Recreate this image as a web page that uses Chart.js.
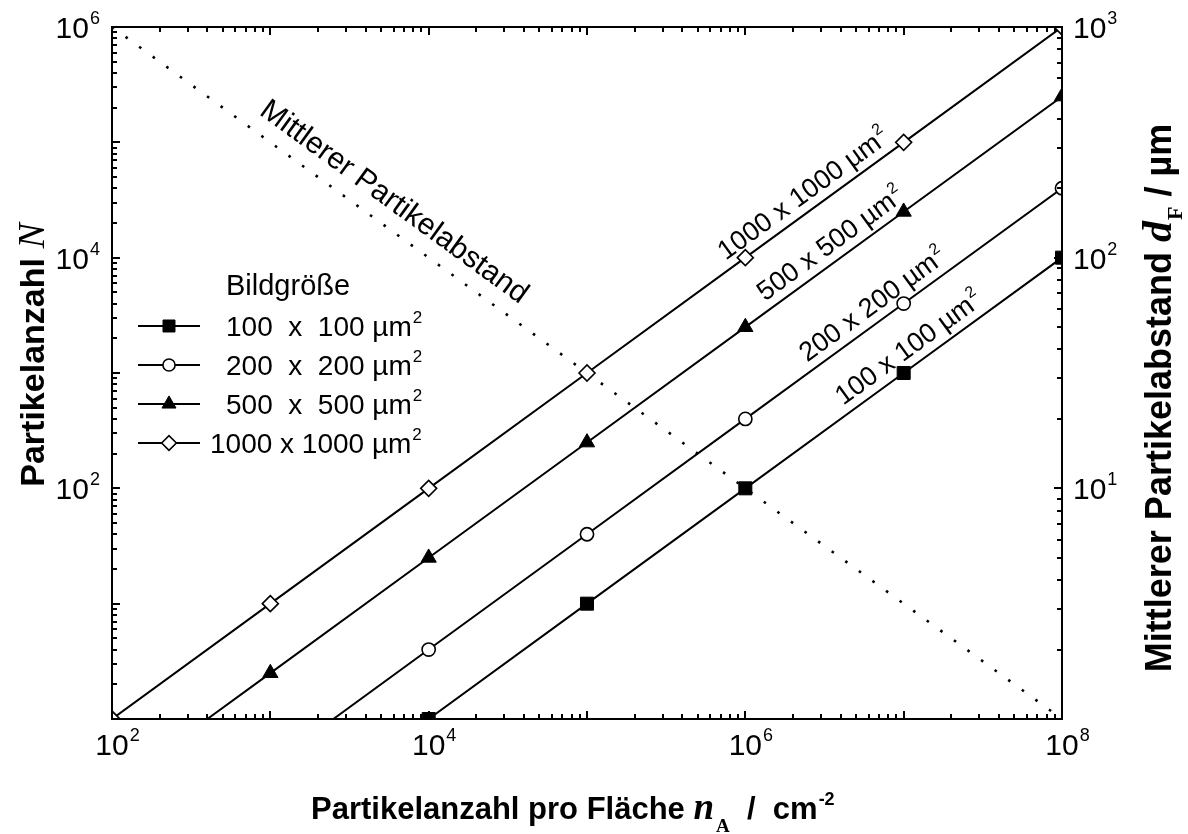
<!DOCTYPE html>
<html>
<head>
<meta charset="utf-8">
<script src="https://cdn.jsdelivr.net/npm/chart.js@4/dist/chart.umd.min.js"></script>
<style>
  html, body { margin: 0; padding: 0; background: #fff; }
  #wrap { width: 1188px; height: 834px; }
</style>
</head>
<body>
<div id="wrap"><canvas id="chart" width="1188" height="834"></canvas></div>
<script>
// Particle count N in an image field versus particle density n_A (cm^-2)
const density100 = [1e4, 1e5, 1e6, 1e7, 1e8];
const count100   = [1, 10, 100, 1000, 10000];
const density200 = [2500, 1e4, 1e5, 1e6, 1e7, 1e8];
const count200   = [1, 4, 40, 400, 4000, 40000];
const density500 = [400, 1e3, 1e4, 1e5, 1e6, 1e7, 1e8];
const count500   = [1, 2.5, 25, 250, 2500, 25000, 250000];
const density1000 = [1e2, 1e3, 1e4, 1e5, 1e6, 1e7, 1e8];
const count1000   = [1, 10, 100, 1000, 1e4, 1e5, 1e6];

// mean particle spacing d_F (µm), right axis
const spacingDensity = [1e2, 1e8];
const spacingValue   = [1000, 1];

// image sizes
const sizeNames  = ['100  x  100 µm', '200  x  200 µm', '500  x  500 µm', '1000 x 1000 µm'];
const lineNames  = ['100 x 100 µm', '200 x 200 µm', '500 x 500 µm', '1000 x 1000 µm'];
const legendTitle = 'Bildgröße';
const spacingName = 'Mittlerer Partikelabstand';

// tick label exponents
const xTickExp  = [2, 4, 6, 8];
const yTickExp  = [2, 4, 6];
const y2TickExp = [1, 2, 3];

const SANS  = "'Liberation Sans', Arial, sans-serif";
const SERIF = "'Liberation Serif', 'Times New Roman', serif";

function pts(xs, ys) { return xs.map((x, i) => ({ x: x, y: ys[i] })); }

const markerStyles = [
  { pointStyle: 'rect',     radius: 9.2, fill: '#000', border: 1 },
  { pointStyle: 'circle',   radius: 6.6, fill: '#fff', border: 1.6 },
  { pointStyle: 'triangle', radius: 8.8, fill: '#000', border: 1 },
  { pointStyle: 'rectRot',  radius: 8.0, fill: '#fff', border: 1.6 }
];
const seriesX = [density100, density200, density500, density1000];
const seriesY = [count100, count200, count500, count1000];
// the 200 and 500 curves start on the lower axis without a marker
const bareFirst = [false, true, true, false];

const datasets = seriesX.map((xs, k) => {
  const m = markerStyles[k];
  return {
    label: lineNames[k],
    data: pts(xs, seriesY[k]),
    yAxisID: 'y',
    borderColor: '#000',
    borderWidth: 2,
    tension: 0,
    fill: false,
    pointStyle: m.pointStyle,
    pointRadius: xs.map((_, i) => (bareFirst[k] && i === 0) ? 0 : m.radius),
    pointBackgroundColor: m.fill,
    pointBorderColor: '#000',
    pointBorderWidth: m.border,
    pointHoverRadius: 0
  };
});

datasets.push({
  label: spacingName,
  data: pts(spacingDensity, spacingValue),
  yAxisID: 'y2',
  borderColor: '#000',
  borderWidth: 2.6,
  borderDash: [2.6, 14.2],
  borderCapStyle: 'butt',
  pointRadius: 0,
  tension: 0,
  fill: false
});

function richWidth(ctx, parts) {
  let w = 0;
  for (const p of parts) { ctx.font = p.font; w += ctx.measureText(p.text).width + (p.dx || 0); }
  return w;
}
function drawRich(ctx, parts, x, y, align) {
  const w = richWidth(ctx, parts);
  let cx = align === 'center' ? x - w / 2 : (align === 'right' ? x - w : x);
  ctx.textAlign = 'left';
  ctx.textBaseline = 'alphabetic';
  for (const p of parts) {
    ctx.font = p.font;
    cx += (p.dx || 0);
    ctx.fillText(p.text, cx, y + (p.dy || 0));
    cx += ctx.measureText(p.text).width;
  }
}
function powParts(e) {
  return [{ text: '10', font: '30px ' + SANS }, { text: String(e), font: '18px ' + SANS, dy: -14, dx: 1 }];
}
function areaParts(t, size, sup) {
  return [{ text: t, font: size + 'px ' + SANS }, { text: '2', font: sup + 'px ' + SANS, dy: -Math.round(size * 0.45), dx: 1 }];
}

function logInterp(xs, ys, x) {
  for (let i = 0; i < xs.length - 1; i++) {
    if (x >= xs[i] && x <= xs[i + 1]) {
      const t = (Math.log(x) - Math.log(xs[i])) / (Math.log(xs[i + 1]) - Math.log(xs[i]));
      return Math.exp(Math.log(ys[i]) + t * (Math.log(ys[i + 1]) - Math.log(ys[i])));
    }
  }
  return ys[ys.length - 1];
}

function drawMarker(ctx, m, x, y) {
  ctx.save();
  ctx.fillStyle = m.fill;
  ctx.strokeStyle = '#000';
  ctx.lineWidth = m.border;
  const opts = { pointStyle: m.pointStyle, radius: m.radius * 0.92, borderWidth: m.border, rotation: 0 };
  if (Chart.helpers && Chart.helpers.drawPoint) {
    Chart.helpers.drawPoint(ctx, opts, x, y);
  } else {
    ctx.beginPath();
    ctx.arc(x, y, opts.radius, 0, Math.PI * 2);
    ctx.fill(); ctx.stroke();
  }
  ctx.restore();
}

const decorations = {
  id: 'decorations',
  afterDatasetsDraw(chart) {
    const ctx = chart.ctx;
    const a = chart.chartArea;
    const xs = chart.scales.x, ys = chart.scales.y, y2s = chart.scales.y2;
    ctx.save();
    ctx.fillStyle = '#000';
    ctx.strokeStyle = '#000';

    // frame
    ctx.lineWidth = 2;
    ctx.strokeRect(a.left, a.top, a.right - a.left, a.bottom - a.top);

    // inward ticks on all four sides
    function logTicks(min, max, cb) {
      const d0 = Math.round(Math.log10(min)), d1 = Math.round(Math.log10(max));
      for (let d = d0; d <= d1; d++) {
        for (let m = 1; m <= 9; m++) {
          const v = m * Math.pow(10, d);
          if (v < min * 0.999 || v > max * 1.001) continue;
          cb(v, m === 1);
        }
      }
    }
    ctx.lineWidth = 2;
    ctx.beginPath();
    logTicks(xs.min, xs.max, (v, major) => {
      const px = Math.round(xs.getPixelForValue(v));
      const len = major ? 8 : 5;
      ctx.moveTo(px, a.bottom); ctx.lineTo(px, a.bottom - len);
      ctx.moveTo(px, a.top); ctx.lineTo(px, a.top + len);
    });
    logTicks(ys.min, ys.max, (v, major) => {
      const py = Math.round(ys.getPixelForValue(v));
      const len = major ? 8 : 5;
      ctx.moveTo(a.left, py); ctx.lineTo(a.left + len, py);
    });
    logTicks(y2s.min, y2s.max, (v, major) => {
      const py = Math.round(y2s.getPixelForValue(v));
      const len = major ? 8 : 5;
      ctx.moveTo(a.right, py); ctx.lineTo(a.right - len, py);
    });
    ctx.stroke();

    // tick labels
    ctx.font = '30px ' + SANS;
    const w10 = ctx.measureText('10').width;
    xTickExp.forEach(e => {
      const px = xs.getPixelForValue(Math.pow(10, e));
      drawRich(ctx, powParts(e), px - w10 / 2, a.bottom + 36, 'left');
    });
    yTickExp.forEach(e => {
      const py = ys.getPixelForValue(Math.pow(10, e));
      drawRich(ctx, powParts(e), a.left - 12, py + 11, 'right');
    });
    y2TickExp.forEach(e => {
      const py = y2s.getPixelForValue(Math.pow(10, e));
      drawRich(ctx, powParts(e), a.right + 11, py + 11, 'left');
    });

    // axis titles
    drawRich(ctx, [
      { text: 'Partikelanzahl pro Fläche ', font: 'bold 31px ' + SANS },
      { text: 'n', font: 'italic bold 37px ' + SERIF },
      { text: 'A', font: 'bold 19px ' + SERIF, dy: 13, dx: 2 },
      { text: '  /  cm', font: 'bold 31px ' + SANS },
      { text: '-2', font: 'bold 18px ' + SANS, dy: -14, dx: 1 }
    ], 311, 819, 'left');

    ctx.save();
    ctx.translate(44, 355);
    ctx.rotate(-Math.PI / 2);
    drawRich(ctx, [
      { text: 'Partikelanzahl ', font: 'bold 34px ' + SANS },
      { text: 'N', font: 'italic 38px ' + SERIF }
    ], 0, 0, 'center');
    ctx.restore();

    ctx.save();
    ctx.translate(1171, 398);
    ctx.rotate(-Math.PI / 2);
    drawRich(ctx, [
      { text: 'Mittlerer Partikelabstand ', font: 'bold 36px ' + SANS },
      { text: 'd', font: 'italic bold 42px ' + SERIF },
      { text: 'F', font: 'bold 22px ' + SERIF, dy: 11, dx: 1 },
      { text: ' / µm', font: 'bold 36px ' + SANS }
    ], 0, 0, 'center');
    ctx.restore();

    // labels written along the curves
    const lineLabelAt = [1.25e7, 7.4e6, 4.0e6, 2.7e6];
    seriesX.forEach((xsData, k) => {
      const ysData = seriesY[k];
      const p0x = xs.getPixelForValue(xsData[0]), p0y = ys.getPixelForValue(ysData[0]);
      const p1x = xs.getPixelForValue(xsData[xsData.length - 1]), p1y = ys.getPixelForValue(ysData[ysData.length - 1]);
      const ang = Math.atan2(p1y - p0y, p1x - p0x);
      const xv = lineLabelAt[k];
      const cx = xs.getPixelForValue(xv), cy = ys.getPixelForValue(logInterp(xsData, ysData, xv));
      ctx.save();
      ctx.translate(cx, cy);
      ctx.rotate(ang);
      ctx.fillStyle = '#000';
      drawRich(ctx, areaParts(lineNames[k], 27, 16), 0, -9, 'center');
      ctx.restore();
    });

    // label along the spacing curve
    {
      const p0x = xs.getPixelForValue(spacingDensity[0]), p0y = y2s.getPixelForValue(spacingValue[0]);
      const p1x = xs.getPixelForValue(spacingDensity[1]), p1y = y2s.getPixelForValue(spacingValue[1]);
      const ang = Math.atan2(p1y - p0y, p1x - p0x);
      const xv = 4900;
      const cx = xs.getPixelForValue(xv), cy = y2s.getPixelForValue(logInterp(spacingDensity, spacingValue, xv));
      ctx.save();
      ctx.translate(cx, cy);
      ctx.rotate(ang);
      ctx.font = '30px ' + SANS;
      ctx.textAlign = 'center';
      ctx.textBaseline = 'alphabetic';
      ctx.fillText(spacingName, 0, -16);
      ctx.restore();
    }

    // legend
    ctx.font = '29px ' + SANS;
    ctx.textAlign = 'left';
    ctx.textBaseline = 'alphabetic';
    ctx.fillText(legendTitle, 226, 295);
    const rowY = [326, 365, 404, 443];
    const textX = [226, 226, 226, 210];
    sizeNames.forEach((name, k) => {
      const yc = rowY[k];
      ctx.lineWidth = 2;
      ctx.strokeStyle = '#000';
      ctx.beginPath();
      ctx.moveTo(138, yc); ctx.lineTo(200, yc);
      ctx.stroke();
      drawMarker(ctx, markerStyles[k], 169, yc);
      ctx.fillStyle = '#000';
      drawRich(ctx, areaParts(name, 28, 17), textX[k], yc + 10, 'left');
    });

    ctx.restore();
  }
};

const noSize = (s) => { if (s.isHorizontal()) s.height = 0; else s.width = 0; };

new Chart(document.getElementById('chart'), {
  type: 'line',
  data: { datasets: datasets },
  options: {
    responsive: false,
    animation: false,
    devicePixelRatio: 1,
    layout: { padding: { left: 112, top: 27, right: 126, bottom: 115 } },
    plugins: { legend: { display: false }, tooltip: { enabled: false } },
    events: [],
    scales: {
      x: {
        type: 'logarithmic', min: 1e2, max: 1e8, position: 'bottom',
        ticks: { display: false }, grid: { display: false }, border: { display: false },
        afterFit: noSize
      },
      y: {
        type: 'logarithmic', min: 1, max: 1e6, position: 'left',
        ticks: { display: false }, grid: { display: false }, border: { display: false },
        afterFit: noSize
      },
      y2: {
        type: 'logarithmic', min: 1, max: 1000, position: 'right',
        ticks: { display: false }, grid: { display: false }, border: { display: false },
        afterFit: noSize
      }
    }
  },
  plugins: [decorations]
});
</script>
</body>
</html>
